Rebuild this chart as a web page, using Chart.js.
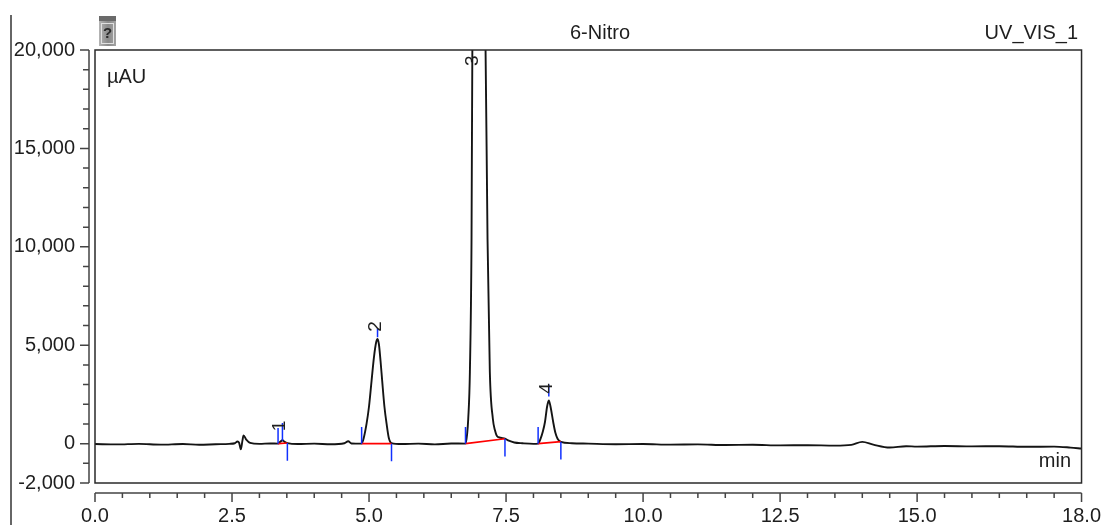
<!DOCTYPE html>
<html>
<head>
<meta charset="utf-8">
<title>6-Nitro</title>
<script src="https://cdn.jsdelivr.net/npm/chart.js@4.4.1/dist/chart.umd.min.js"></script>
<style>
  html, body { margin: 0; padding: 0; background: #fff; }
  #wrap { width: 1106px; height: 525px; }
</style>
</head>
<body>
<div id="wrap"><canvas id="chromChart" width="1106" height="525"></canvas></div>
<script>
// retention time (min) and detector signal (µAU)
const timeMin = [
    0.0, 0.4, 0.8, 1.2, 1.6, 1.9, 2.2, 2.45, 2.55, 2.6, 2.63, 2.66, 2.69, 2.71, 2.76, 2.83,
    3.0, 3.2, 3.34, 3.38, 3.42, 3.46, 3.51, 3.7, 4.0, 4.3, 4.55, 4.62, 4.68,
    4.864, 4.9, 4.955, 5.0, 5.046, 5.09, 5.13, 5.156, 5.18, 5.21, 5.24, 5.28, 5.32, 5.36, 5.41,
    5.6, 5.9, 6.2, 6.5, 6.76, 6.79, 6.81, 6.84, 6.87, 6.885, 7.0, 7.126, 7.162, 7.204, 7.259,
    7.3, 7.33, 7.4, 7.48, 7.55, 7.65, 7.8, 8.0,
    8.085, 8.13, 8.17, 8.21, 8.25, 8.28, 8.31, 8.36, 8.4, 8.44, 8.5, 8.7,
    9.0, 9.5, 10.0, 10.5, 11.0, 11.5, 12.0, 12.5, 13.0, 13.5, 13.8, 14.0, 14.2, 14.5, 14.8,
    15.0, 15.5, 16.0, 16.5, 17.0, 17.5, 17.8, 18.0
];
const signal = [
    -20, -40, -10, -50, -20, -60, -30, -10, 20, 110, 40, -290, 150, 420, 200, 40,
    -10, 10, 0, 90, 170, 90, 30, -20, 0, -30, 20, 120, 10,
    0, 250, 1013, 1900, 3190, 4400, 5150, 5316, 5050, 4200, 3190, 1900, 1013, 300, 30,
    -20, 0, -40, 10, 0, 500, 1266, 3645, 10380, 20000, 30000, 20000, 10380, 3645, 1266,
    650, 405, 300, 254, 150, 60, 20, -10,
    0, 250, 600, 1100, 1900, 2190, 1900, 1100, 550, 250, 90, 20,
    0, -30, -20, -50, -40, -70, -60, -90, -80, -100, -60, 90, -50, -200, -130,
    -150, -120, -140, -130, -160, -150, -200, -250
];

const xTicks = [0, 2.5, 5, 7.5, 10, 12.5, 15, 18];
const yTicks = [-2000, 0, 5000, 10000, 15000, 20000];

// peak names and where their labels sit
const peakNames = ['1', '2', '3', '4'];
const peakLabelTime = [3.37, 5.13, 6.89, 8.245];
const peakLabelValue = [900, 5950, 19450, 2800];

// integration baselines (red)
const baseStartTime = [3.34, 4.865, 6.76, 8.085];
const baseStartValue = [0, 0, 0, 0];
const baseEndTime = [3.51, 5.41, 7.48, 8.5];
const baseEndValue = [30, 0, 250, 100];

// peak delimiter marks (blue): time, from, to
const markTime = [3.34, 3.42, 3.51, 4.865, 5.155, 5.41, 6.76, 7.48, 8.085, 8.28, 8.5];
const markFrom = [0, 150, 30, 0, 5400, 0, 0, 250, 0, 2400, 100];
const markTo = [800, 1050, -870, 850, 5850, -900, 850, -650, 850, 3000, -800];

const FONT = "'Liberation Sans', Arial, sans-serif";
const INK = '#1e1e1e';

let datasets = [];

datasets.push({
    label: 'UV_VIS_1',
    data: timeMin.map((t, i) => ({ x: t, y: signal[i] })),
    borderColor: '#141414',
    borderWidth: 1.9,
    pointRadius: 0,
    cubicInterpolationMode: 'monotone',
    order: 10
});

baseStartTime.forEach((t, i) => {
    datasets.push({
        data: [{ x: t, y: baseStartValue[i] }, { x: baseEndTime[i], y: baseEndValue[i] }],
        borderColor: '#ff0000',
        borderWidth: 1.6,
        pointRadius: 0,
        order: 2
    });
});

markTime.forEach((t, i) => {
    datasets.push({
        data: [{ x: t, y: markFrom[i] }, { x: t, y: markTo[i] }],
        borderColor: '#1030ff',
        borderWidth: 1.5,
        pointRadius: 0,
        order: 1
    });
});

// frame, separate axes, titles and peak labels
const decorPlugin = {
    id: 'decor',
    afterDraw(chart) {
        const ctx = chart.ctx;
        const area = chart.chartArea;
        const xs = chart.scales.x;
        const ys = chart.scales.y;
        ctx.save();

        // page edge line
        ctx.strokeStyle = '#333';
        ctx.lineWidth = 1.5;
        ctx.beginPath();
        ctx.moveTo(11, 15);
        ctx.lineTo(11, 525);
        ctx.stroke();

        // plot box
        ctx.strokeStyle = '#2a2a2a';
        ctx.lineWidth = 1.5;
        ctx.strokeRect(area.left, area.top, area.right - area.left, area.bottom - area.top);

        // y axis, offset left of the box
        const yAxisX = area.left - 6;
        ctx.strokeStyle = '#444';
        ctx.lineWidth = 1.5;
        ctx.beginPath();
        ctx.moveTo(yAxisX, ys.getPixelForValue(20000));
        ctx.lineTo(yAxisX, ys.getPixelForValue(-2000));
        for (let v = -2000; v <= 20000; v += 1000) {
            const py = ys.getPixelForValue(v);
            const len = yTicks.includes(v) ? 9 : 6;
            ctx.moveTo(yAxisX - len, py);
            ctx.lineTo(yAxisX, py);
        }
        ctx.stroke();

        // x axis, offset below the box
        const xAxisY = area.bottom + 10;
        ctx.beginPath();
        ctx.moveTo(xs.getPixelForValue(0), xAxisY);
        ctx.lineTo(xs.getPixelForValue(18), xAxisY);
        for (let t = 0; t <= 18.001; t += 0.5) {
            const px = xs.getPixelForValue(t);
            const len = xTicks.includes(t) ? 9 : 5;
            ctx.moveTo(px, xAxisY);
            ctx.lineTo(px, xAxisY + len);
        }
        ctx.stroke();

        // icon
        const grad = ctx.createLinearGradient(99, 0, 117, 0);
        grad.addColorStop(0, '#b4b4b4');
        grad.addColorStop(0.5, '#8a8a8a');
        grad.addColorStop(1, '#a6a6a6');
        ctx.fillStyle = grad;
        ctx.fillRect(99, 16, 17, 30);
        ctx.fillStyle = '#6a6a6a';
        ctx.fillRect(99, 16, 17, 5);
        ctx.strokeStyle = '#e0e0e0';
        ctx.lineWidth = 1;
        ctx.strokeRect(101.5, 23.5, 12, 20);
        ctx.fillStyle = '#2a2a2a';
        ctx.font = 'bold 15px ' + FONT;
        ctx.textAlign = 'center';
        ctx.textBaseline = 'middle';
        ctx.fillText('?', 107.5, 34);

        // titles
        ctx.fillStyle = INK;
        ctx.font = '20px ' + FONT;
        ctx.textAlign = 'center';
        ctx.fillText('6-Nitro', 600, 33);
        ctx.textAlign = 'right';
        ctx.fillText('UV_VIS_1', 1078, 33);

        // unit labels
        ctx.textAlign = 'left';
        ctx.fillText('\u00b5AU', 107, 77);
        ctx.textAlign = 'right';
        ctx.fillText('min', 1071, 461);

        // peak labels, reading upward
        ctx.font = '19px ' + FONT;
        ctx.textAlign = 'center';
        peakNames.forEach((name, i) => {
            const px = xs.getPixelForValue(peakLabelTime[i]);
            const py = ys.getPixelForValue(peakLabelValue[i]);
            ctx.save();
            ctx.translate(px, py);
            ctx.rotate(-Math.PI / 2);
            ctx.fillText(name, 0, 0);
            ctx.restore();
        });

        ctx.restore();
    }
};

const chromChart = new Chart(document.getElementById('chromChart').getContext('2d'), {
    type: 'line',
    data: { datasets: datasets },
    options: {
        responsive: false,
        devicePixelRatio: 1,
        animation: false,
        layout: { padding: { top: 50, right: 24, left: 0, bottom: 0 } },
        plugins: {
            legend: { display: false },
            tooltip: { enabled: false }
        },
        scales: {
            x: {
                type: 'linear',
                min: 0,
                max: 18,
                afterFit: (scale) => { scale.height = 42; },
                afterBuildTicks: (scale) => { scale.ticks = xTicks.map(v => ({ value: v })); },
                border: { display: false },
                grid: { display: true, drawOnChartArea: false, drawTicks: true, tickLength: 16, color: 'rgba(0,0,0,0)' },
                ticks: {
                    autoSkip: false,
                    maxRotation: 0,
                    padding: 5,
                    color: INK,
                    font: { family: FONT, size: 20 },
                    callback: (v) => Number(v).toFixed(1)
                }
            },
            y: {
                min: -2000,
                max: 20000,
                afterFit: (scale) => { scale.width = 95; },
                afterBuildTicks: (scale) => { scale.ticks = yTicks.map(v => ({ value: v })); },
                border: { display: false },
                grid: { display: true, drawOnChartArea: false, drawTicks: true, tickLength: 14, color: 'rgba(0,0,0,0)' },
                ticks: {
                    padding: 6,
                    color: INK,
                    font: { family: FONT, size: 20 },
                    callback: (v) => Number(v).toLocaleString('en-US')
                }
            }
        }
    },
    plugins: [decorPlugin]
});
</script>
</body>
</html>
